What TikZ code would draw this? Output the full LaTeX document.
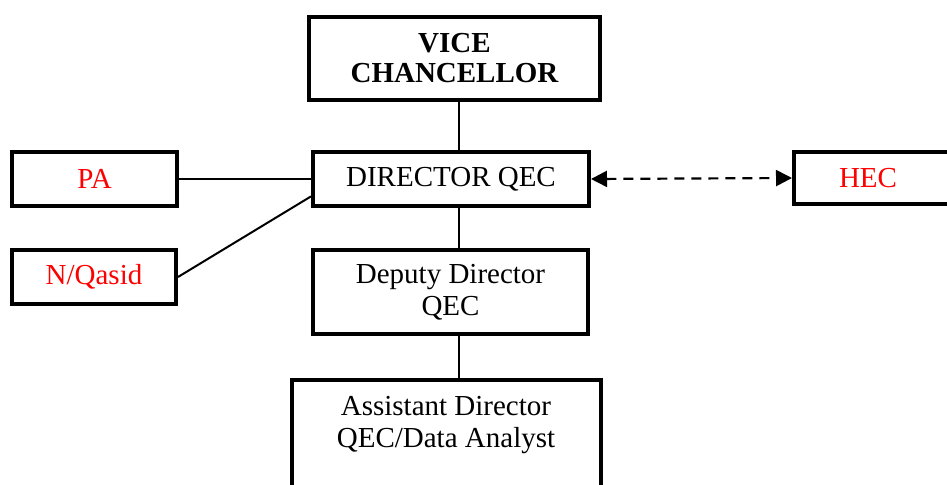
\documentclass[tikz,border=0pt]{standalone}
\usepackage{fontspec}
\setmainfont{Liberation Serif}
\usetikzlibrary{arrows.meta,calc}
\tikzset{
  orgbox/.style={draw, line width=2pt, inner sep=0pt, align=center, font=\fontsize{14.5}{15.5}\selectfont},
  redtext/.style={text=red},
  link/.style={line width=1pt},
  dlink/.style={line width=1.1pt, dash pattern=on 5pt off 3.5pt, {Triangle[length=8pt,width=8pt]}-{Triangle[length=8pt,width=8pt]}}
}
\begin{document}
\begin{tikzpicture}[x=0.5pt,y=-0.5pt]
\useasboundingbox (0,0) rectangle (947,485);
\clip (0,0) rectangle (947,485);
\node[orgbox, minimum width=145.5pt, minimum height=41.5pt, font=\fontsize{14.5}{15}\selectfont\bfseries] (vc) at (454.5,58.5) {VICE\\CHANCELLOR};
\node[orgbox, minimum width=138pt, minimum height=27pt] (dir) at (451,179) {DIRECTOR QEC};
\node[orgbox, redtext, minimum width=82.5pt, minimum height=27pt] (pa) at (94.5,179) {PA};
\node[orgbox, redtext, minimum width=82pt, minimum height=27pt] (nq) at (94,277) {N/Qasid};
\node[orgbox, minimum width=80pt, minimum height=26pt, anchor=west] (hecbox) at (792,178) {};
\node[redtext, font=\fontsize{14.5}{15.5}\selectfont] (hec) at (868,178) {HEC};
\node[orgbox, minimum width=137.5pt, minimum height=42pt, font=\fontsize{14.5}{16}\selectfont] (dep) at (450.5,292) {Deputy Director\\QEC};
\node[orgbox, minimum width=154.5pt, minimum height=70pt, anchor=north] (adbox) at (446.5,378) {};
\node[align=center, font=\fontsize{14.5}{16}\selectfont] (ad) at (446,425) {Assistant Director\\QEC/Data Analyst};
\coordinate (spine) at (459,0);
\draw[link] (vc.south -| spine) -- (dir.north -| spine);
\draw[link] (dir.south -| spine) -- (dep.north -| spine);
\draw[link] (dep.south -| spine) -- (adbox.north -| spine);
\draw[link] (pa.east) -- (dir.west);
\draw[link] (nq.east) -- ($(dir.west)!0.6!(dir.south west)$);
\draw[dlink] (dir.east) -- (hecbox.west);
\end{tikzpicture}
\end{document}
